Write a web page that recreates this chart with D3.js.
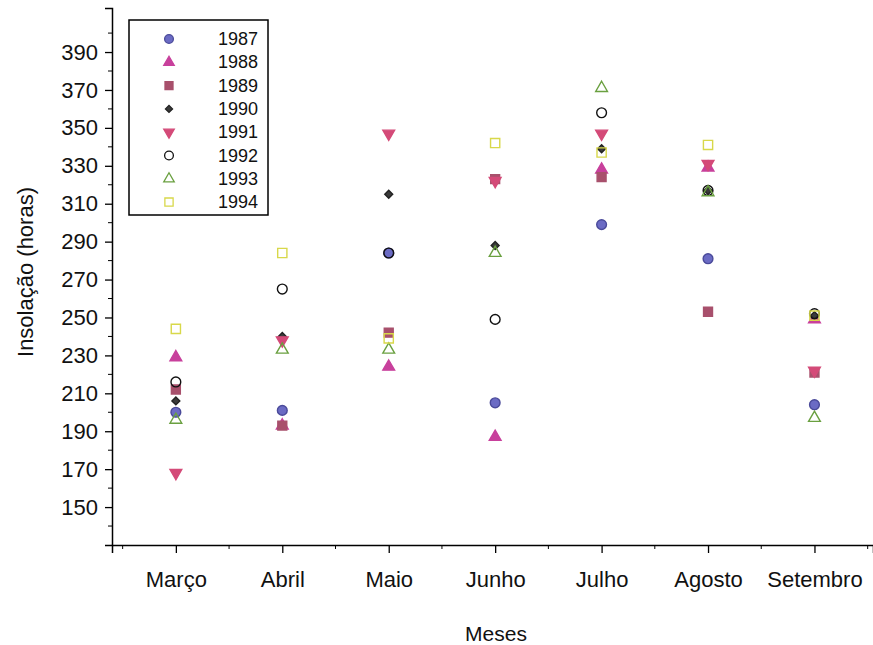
<!DOCTYPE html>
<html>
<head>
<meta charset="utf-8">
<script src="https://cdn.jsdelivr.net/npm/d3@7"></script>
<style>
  body { margin: 0; background: #fff; }
  svg { font-family: Arial, "Liberation Sans", sans-serif; }
</style>
</head>
<body>
<svg width="873" height="645"></svg>
<script>
// months on the x axis
var months = ["Março", "Abril", "Maio", "Junho", "Julho", "Agosto", "Setembro"];
var years = ["1987", "1988", "1989", "1990", "1991", "1992", "1993", "1994"];
var yTicks = [150, 170, 190, 210, 230, 250, 270, 290, 310, 330, 350, 370, 390];

// insolação (horas) per year, one value per month
var v1987 = [200, 201, 284, 205, 299, 281, 204];
var v1988 = [229, 193, 224, 187, 328, 329, 249];
var v1989 = [212, 193, 242, 323, 324, 253, 221];
var v1990 = [206, 240, 315, 288, 339, 317, 251];
var v1991 = [168, 238, 347, 322, 347, 331, 222];
var v1992 = [216, 265, 284, 249, 358, 317, 252];
var v1993 = [196, 233, 233, 284, 371, 316, 197];
var v1994 = [244, 284, 239, 342, 337, 341, 251];

var allValues = [v1987, v1988, v1989, v1990, v1991, v1992, v1993, v1994];

var svg = d3.select("svg"),
    width = +svg.attr("width"),
    height = +svg.attr("height");

var plotLeft = 112, plotBottom = 545, plotTop = 8;

var x = d3.scaleLinear().domain([-0.6, 6.55]).range([plotLeft, width]);
var y = d3.scaleLinear().domain([130, 130 + (plotBottom - plotTop) / 1.896]).range([plotBottom, plotTop]);

// marker styles per year
var styles = [
    {type: d3.symbolCircle, size: 75, fill: "#6b6bc4", stroke: "#4a4a9a"},
    {type: d3.symbolTriangle, size: 60, fill: "#c8409c", stroke: "#c8409c"},
    {type: d3.symbolSquare, size: 80, fill: "#a8506c", stroke: "#a8506c"},
    {type: d3.symbolDiamond2, size: 40, fill: "#3a3a3a", stroke: "#222"},
    {type: d3.symbolTriangle, size: 60, fill: "#d44a78", stroke: "#d44a78", rot: 180},
    {type: d3.symbolCircle, size: 75, fill: "none", stroke: "#111"},
    {type: d3.symbolTriangle, size: 60, fill: "none", stroke: "#6aa040"},
    {type: d3.symbolSquare, size: 85, fill: "none", stroke: "#d8d84a"}
];

// y axis
var yAxis = d3.axisLeft(y).tickValues(yTicks).tickSize(7).tickFormat(d3.format("d"));
var gy = svg.append("g").attr("transform", "translate(" + plotLeft + ",0)").call(yAxis);
gy.select(".domain").attr("stroke", "#000").attr("stroke-width", 1.5);
gy.selectAll(".tick line").attr("stroke", "#000").attr("stroke-width", 1.3);
gy.selectAll(".tick text").attr("font-size", 22).attr("fill", "#111").attr("x", -14);

// minor y ticks
var yMinor = d3.range(140, 411, 20);
svg.append("g").selectAll("line").data(yMinor).enter().append("line")
    .attr("x1", plotLeft - 4).attr("x2", plotLeft)
    .attr("y1", function(d) { return y(d); })
    .attr("y2", function(d) { return y(d); })
    .attr("stroke", "#000");

// x axis
var xAxis = d3.axisBottom(x).tickValues(d3.range(0, 7)).tickSize(8)
    .tickFormat(function(d) { return months[d]; });
var gx = svg.append("g").attr("transform", "translate(0," + plotBottom + ")").call(xAxis);
gx.select(".domain").attr("stroke", "#000").attr("stroke-width", 1.5);
gx.selectAll(".tick line").attr("stroke", "#000").attr("stroke-width", 1.3);
gx.selectAll(".tick text").attr("font-size", 22).attr("fill", "#111").attr("y", 26);

// minor x ticks
var xMinor = d3.range(-0.5, 7, 1);
svg.append("g").selectAll("line").data(xMinor).enter().append("line")
    .attr("x1", function(d) { return x(d); })
    .attr("x2", function(d) { return x(d); })
    .attr("y1", plotBottom).attr("y2", plotBottom + 4)
    .attr("stroke", "#000");

// axis titles
svg.append("text")
    .attr("transform", "translate(33,272) rotate(-90)")
    .attr("text-anchor", "middle")
    .attr("font-size", 22)
    .attr("fill", "#111")
    .text("Insolação (horas)");

svg.append("text")
    .attr("x", 496).attr("y", 641)
    .attr("text-anchor", "middle")
    .attr("font-size", 21)
    .attr("fill", "#111")
    .text("Meses");

// points
var points = svg.append("g").attr("class", "points");
allValues.forEach(function(vals, i) {
    var s = styles[i];
    points.selectAll(".p" + i)
        .data(vals)
        .enter().append("path")
        .attr("class", "p" + i)
        .attr("d", d3.symbol().type(s.type).size(s.size))
        .attr("transform", function(d, j) {
            return "translate(" + x(j) + "," + y(d) + ")" + (s.rot ? " rotate(" + s.rot + ")" : "");
        })
        .attr("fill", s.fill)
        .attr("stroke", s.stroke)
        .attr("stroke-width", 1.4);
});

// legend
var legend = svg.append("g").attr("transform", "translate(129,20)");
legend.append("rect")
    .attr("width", 139).attr("height", 195)
    .attr("fill", "#fff").attr("stroke", "#000").attr("stroke-width", 1.5);

var rows = legend.selectAll(".row").data(years).enter().append("g")
    .attr("class", "row")
    .attr("transform", function(d, i) { return "translate(0," + (19 + i * 23.3) + ")"; });

rows.append("path")
    .attr("d", function(d, i) { return d3.symbol().type(styles[i].type).size(styles[i].size * 0.8)(); })
    .attr("transform", function(d, i) { return "translate(40,0)" + (styles[i].rot ? " rotate(180)" : ""); })
    .attr("fill", function(d, i) { return styles[i].fill; })
    .attr("stroke", function(d, i) { return styles[i].stroke; })
    .attr("stroke-width", 1.3);

rows.append("text")
    .attr("x", 129).attr("y", 6)
    .attr("text-anchor", "end")
    .attr("font-size", 18)
    .attr("fill", "#111")
    .text(function(d) { return d; });
</script>
</body>
</html>
